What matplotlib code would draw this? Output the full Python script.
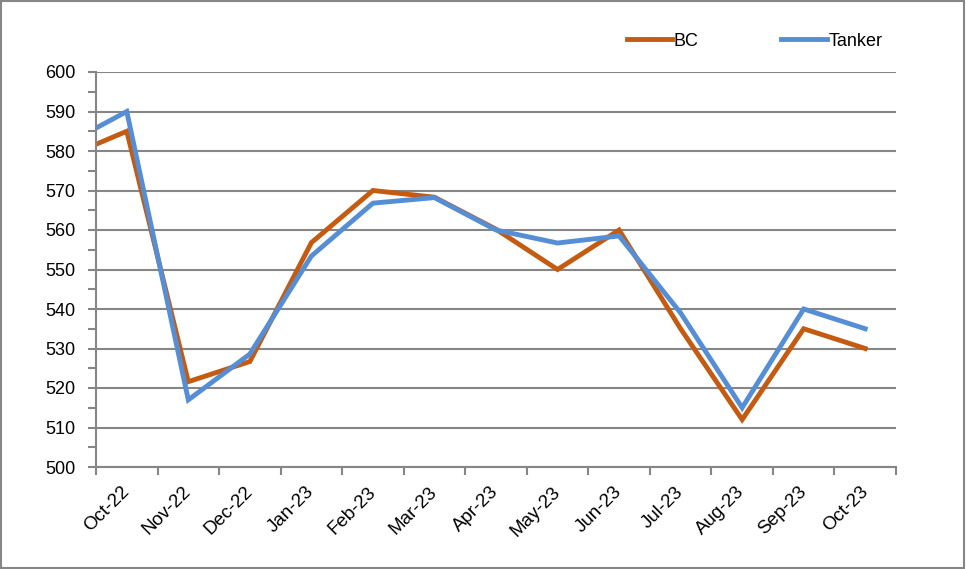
import numpy as np
import matplotlib
matplotlib.use('Agg')
import matplotlib.pyplot as plt
import matplotlib.transforms as mtransforms
from matplotlib.patches import Rectangle

# monthly values (Sep-22 only shows as the clipped start of the lines)
months = ['Sep-22', 'Oct-22', 'Nov-22', 'Dec-22', 'Jan-23', 'Feb-23', 'Mar-23',
          'Apr-23', 'May-23', 'Jun-23', 'Jul-23', 'Aug-23', 'Sep-23', 'Oct-23']
bc = [578.4, 585, 521.6, 526.7, 556.8, 570, 568.3, 560.2, 550, 560, 535, 512, 535, 530]
tanker = [581.6, 590, 517, 528.6, 553.4, 566.8, 568.2, 560, 556.7, 558.5, 539, 515, 540, 535]

plt.rcParams['font.family'] = ['Liberation Sans', 'DejaVu Sans']

fig = plt.figure(figsize=(9.66, 5.69), dpi=100)
ax = fig.add_axes([96/966, 1-467/569, 800/966, 395/569])

x = np.arange(len(months))
ax.plot(x, bc, color='#C55A11', lw=3.5, label='BC', solid_joinstyle='miter')
ax.plot(x, tanker, color='#558ED5', lw=3.5, label='Tanker', solid_joinstyle='miter')

ax.set_xlim(0.5, len(months) - 0.5)
ax.set_ylim(500, 600)

grey = '#868686'
ax.set_yticks(np.arange(500, 601, 10))
ax.set_yticks(np.arange(500, 601, 5), minor=True)
ax.yaxis.grid(True, which='major', color=grey, lw=1.5)
ax.set_axisbelow(True)

ax.set_xticks(x[1:])
ax.set_xticklabels(months[1:], rotation=45, ha='right', va='top')
ax.set_xticks(np.arange(0.5, len(months), 1), minor=True)

ax.tick_params(axis='x', which='major', length=0, labelsize=13.5, pad=6)
ax.tick_params(axis='x', which='minor', length=6, width=1.5, color=grey, direction='out')
ax.tick_params(axis='y', which='major', length=6, width=1.5, color=grey, labelsize=13, pad=9)
ax.tick_params(axis='y', which='minor', length=6, width=1.5, color=grey)

# nudge the rotated month labels (after tick_params, which resets transforms)
off = mtransforms.ScaledTranslation(6/100, -8/100, fig.dpi_scale_trans)
for lab in ax.get_xticklabels():
    lab.set_transform(lab.get_transform() + off)

for s in ['top', 'right']:
    ax.spines[s].set_visible(False)
for s in ['left', 'bottom']:
    ax.spines[s].set_color(grey)
    ax.spines[s].set_linewidth(1.5)

fig.legend(loc='center', bbox_to_anchor=(0.781, 1-41/569), ncol=2, frameon=False,
           fontsize=13, handlelength=2.5, handletextpad=0.1, columnspacing=4.6)

fig.patches.append(Rectangle((0.001, 0.002), 0.997, 0.996, transform=fig.transFigure,
                             fill=False, edgecolor=grey, lw=1.5))

fig.savefig('out.png', dpi=100)
